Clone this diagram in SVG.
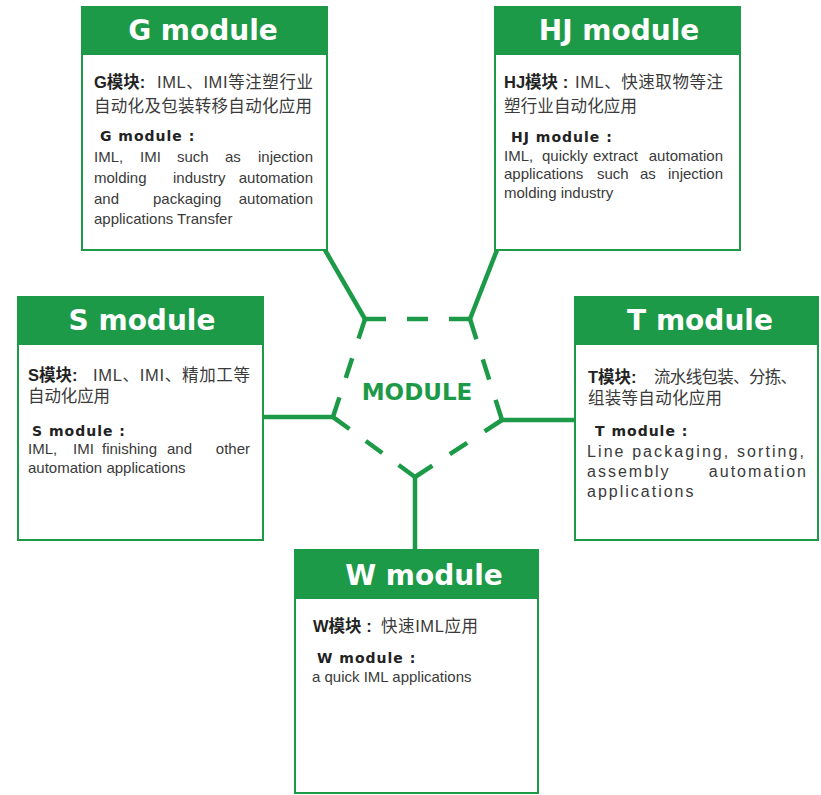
<svg xmlns="http://www.w3.org/2000/svg" width="821" height="795" viewBox="0 0 821 795">
<style>
.box{fill:#fff;stroke:#1d9a48;stroke-width:2}
.hdr{fill:#1d9a48}
.ht{font-family:"DejaVu Sans",sans-serif;font-weight:bold;font-size:28px;fill:#fff;text-anchor:middle}
.cn{font-family:"Liberation Sans","Noto Sans CJK SC",sans-serif;font-size:16.5px;fill:#3a3a3a}
.cnb{font-family:"Liberation Sans","Noto Sans CJK SC",sans-serif;font-size:16.5px;font-weight:bold;fill:#222}
.sub{font-family:"DejaVu Sans",sans-serif;font-weight:bold;font-size:14px;letter-spacing:1px;fill:#222}
.en{font-family:"Liberation Sans",sans-serif;font-size:15px;fill:#3a3a3a}
.end{text-anchor:end}
.ent{font-family:"Liberation Sans",sans-serif;font-size:16px;letter-spacing:2px;fill:#3a3a3a}
.con{stroke:#1d9a48;stroke-width:4.5;fill:none}
.mod{font-family:"DejaVu Sans",sans-serif;font-weight:bold;font-size:23px;fill:#1d9a48}
</style>
<rect width="821" height="795" fill="#fff"/>
<g id="connectors" class="con">
<line x1="325" y1="250" x2="365" y2="319"/>
<line x1="497" y1="250" x2="470" y2="319"/>
<line x1="263" y1="417" x2="333" y2="417"/>
<line x1="502" y1="420" x2="575" y2="420"/>
<line x1="415" y1="477" x2="415" y2="550"/>
<line x1="365" y1="319" x2="470" y2="319" stroke-dasharray="21 21"/>
<line x1="470" y1="319" x2="502" y2="420" stroke-dasharray="21.2 21.2"/>
<line x1="502" y1="420" x2="415" y2="477" stroke-dasharray="20.8 20.8"/>
<line x1="415" y1="477" x2="333" y2="417" stroke-dasharray="20.3 20.3"/>
<line x1="333" y1="417" x2="365" y2="319" stroke-dasharray="20.6 20.6"/>
</g>
<g id="center">
<text class="mod" x="417" y="400" text-anchor="middle">MODULE</text>
</g>
<g id="g-module">
<rect class="box" x="82" y="7" width="245" height="243"/>
<rect class="hdr" x="82" y="7" width="245" height="48"/>
<text class="ht" x="203" y="40">G module</text>
<text class="cnb" x="94" y="88">G模块:</text>
<text class="cn" x="157" y="88" textLength="156" lengthAdjust="spacing">IML、IMI等注塑行业</text>
<text class="cn" x="94" y="112" textLength="218" lengthAdjust="spacing">自动化及包装转移自动化应用</text>
<text class="sub" x="100" y="141">G module :</text>
<text class="en" y="162"><tspan x="94">IML,</tspan><tspan x="140">IMI</tspan><tspan x="177">such</tspan><tspan x="225">as</tspan></text>
<text class="en end" x="313" y="162">injection</text>
<text class="en" y="183"><tspan x="94">molding</tspan><tspan x="173">industry</tspan></text>
<text class="en end" x="313" y="183">automation</text>
<text class="en" y="204"><tspan x="94">and</tspan><tspan x="153">packaging</tspan></text>
<text class="en end" x="313" y="204">automation</text>
<text class="en" x="94" y="224">applications Transfer</text>
</g>
<g id="hj-module">
<rect class="box" x="495" y="7" width="245" height="243"/>
<rect class="hdr" x="495" y="7" width="245" height="48"/>
<text class="ht" x="619" y="40">HJ module</text>
<text class="cnb" x="504" y="88">HJ模块 :</text>
<text class="cn" x="575" y="88" textLength="148" lengthAdjust="spacing">IML、快速取物等注</text>
<text class="cn" x="504" y="112" textLength="133" lengthAdjust="spacing">塑行业自动化应用</text>
<text class="sub" x="511" y="142">HJ module :</text>
<text class="en" y="161"><tspan x="504">IML,</tspan><tspan x="542">quickly</tspan><tspan x="593">extract</tspan></text>
<text class="en end" x="723" y="161">automation</text>
<text class="en" y="179"><tspan x="504">applications</tspan><tspan x="597">such</tspan><tspan x="640">as</tspan></text>
<text class="en end" x="723" y="179">injection</text>
<text class="en" x="504" y="198">molding industry</text>
</g>
<g id="s-module">
<rect class="box" x="18" y="297" width="245" height="243"/>
<rect class="hdr" x="18" y="297" width="245" height="48"/>
<text class="ht" x="142" y="330">S module</text>
<text class="cnb" x="28" y="381">S模块:</text>
<text class="cn" x="93" y="381" textLength="157" lengthAdjust="spacing">IML、IMI、精加工等</text>
<text class="cn" x="28" y="402" textLength="82" lengthAdjust="spacing">自动化应用</text>
<text class="sub" x="32" y="436">S module :</text>
<text class="en" y="454"><tspan x="28">IML,</tspan><tspan x="73">IMI</tspan><tspan x="102">finishing</tspan><tspan x="167">and</tspan></text>
<text class="en end" x="250" y="454">other</text>
<text class="en" x="28" y="473">automation applications</text>
</g>
<g id="t-module">
<rect class="box" x="575" y="297" width="243" height="243"/>
<rect class="hdr" x="575" y="297" width="243" height="48"/>
<text class="ht" x="700" y="330">T module</text>
<text class="cnb" x="588" y="383">T模块:</text>
<text class="cn" x="654" y="383" textLength="143" lengthAdjust="spacing">流水线包装、分拣、</text>
<text class="cn" x="588" y="404" textLength="134" lengthAdjust="spacing">组装等自动化应用</text>
<text class="sub" x="595" y="436">T module  :</text>
<text class="ent" x="587" y="457" textLength="219" lengthAdjust="spacing">Line packaging, sorting,</text>
<text class="ent" x="587" y="477">assembly</text>
<text class="ent end" x="808" y="477">automation</text>
<text class="ent" x="587" y="497">applications</text>
</g>
<g id="w-module">
<rect class="box" x="295" y="550" width="243" height="243"/>
<rect class="hdr" x="295" y="550" width="243" height="49"/>
<text class="ht" x="424" y="585">W module</text>
<text class="cnb" x="313" y="632">W模块 :</text>
<text class="cn" x="381" y="632" textLength="97" lengthAdjust="spacing">快速IML应用</text>
<text class="sub" x="317" y="663">W module :</text>
<text class="en" x="312" y="682">a quick IML applications</text>
</g>
</svg>
